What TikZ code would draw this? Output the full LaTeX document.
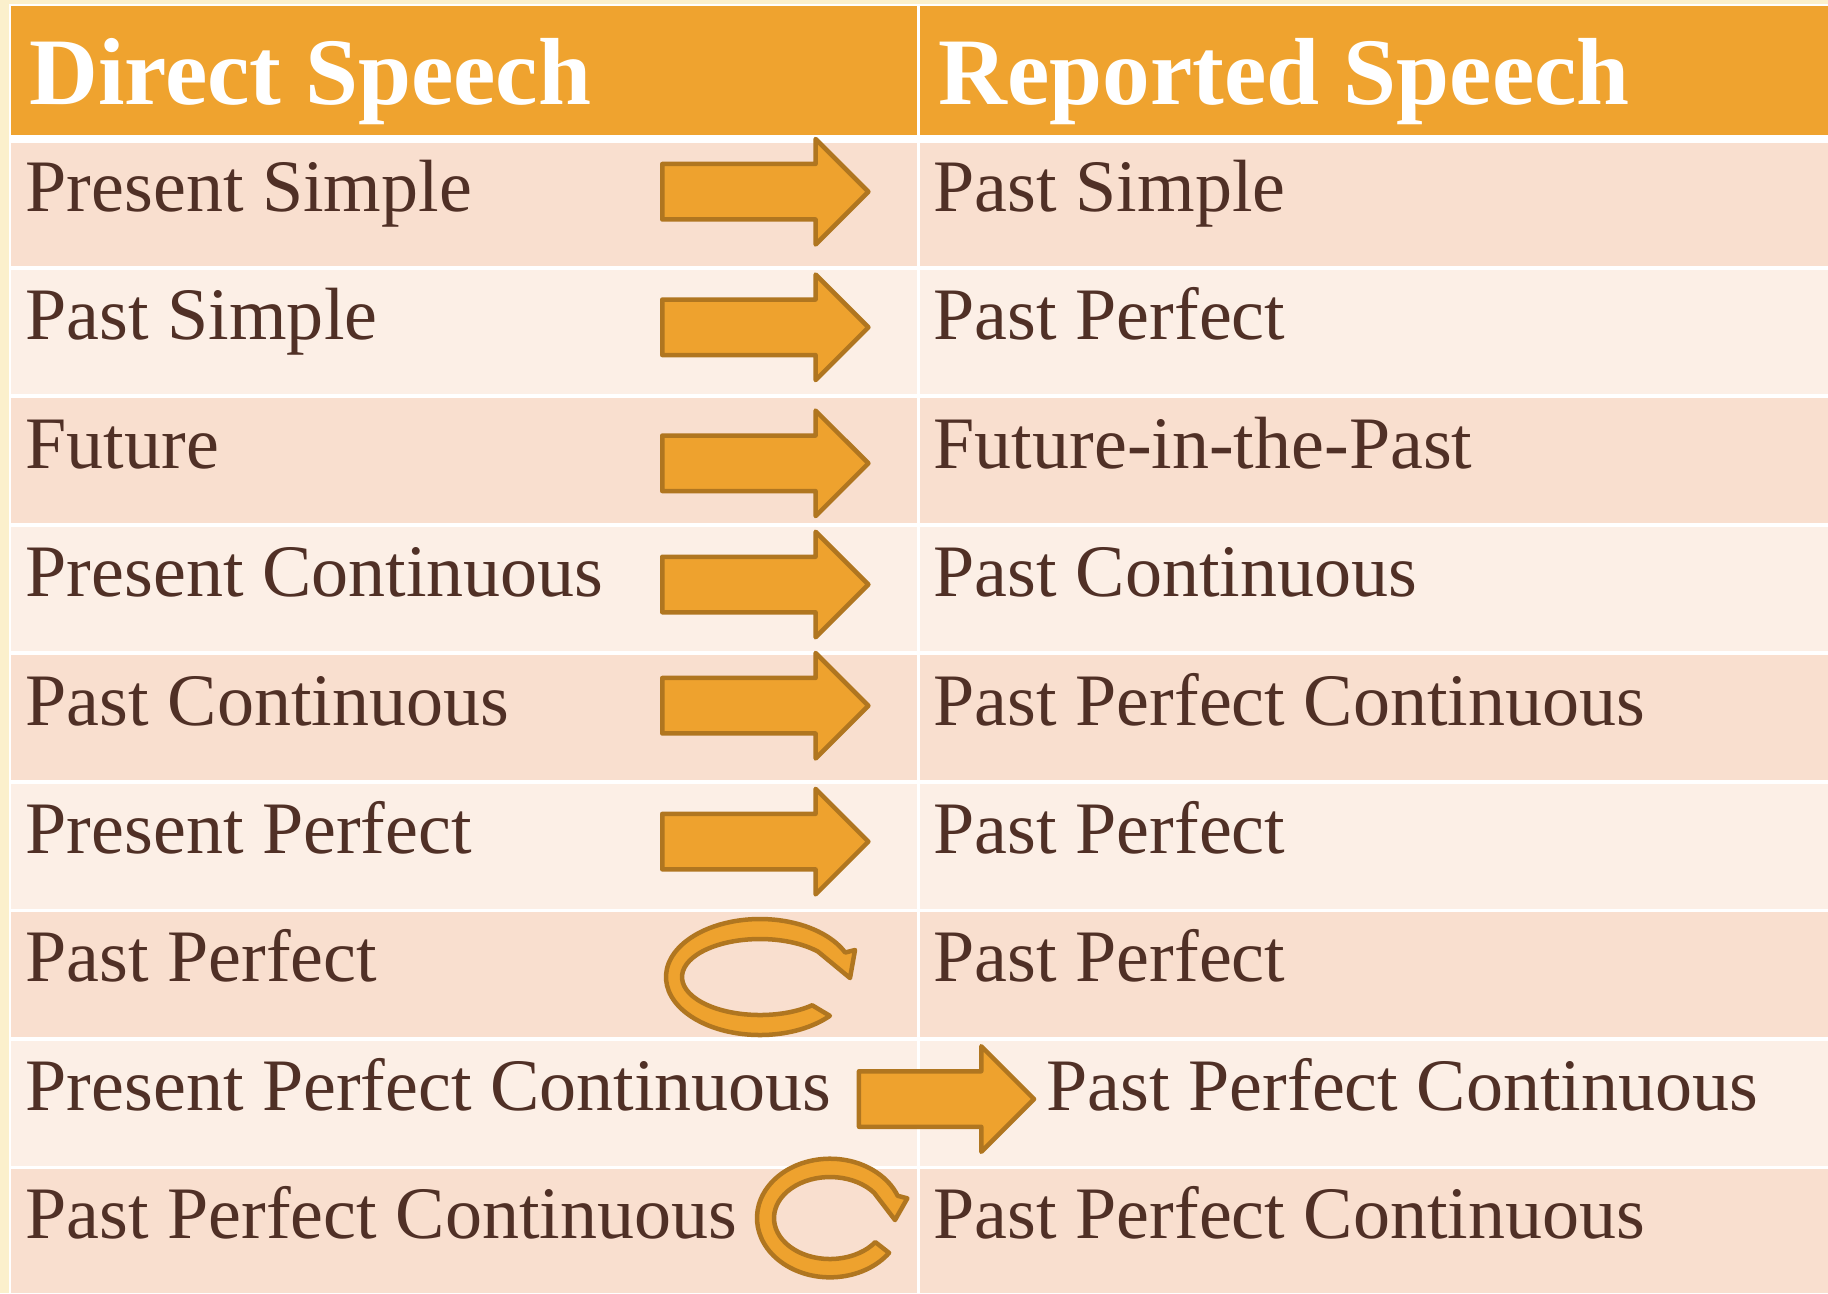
\documentclass[tikz,border=0pt]{standalone}
\usepackage{fontspec}
\setmainfont{Liberation Serif}
\usetikzlibrary{shapes.arrows}
\tikzset{every picture/.style={line width=1pt}}
\definecolor{bg-yellow}{RGB}{251,240,204}
\definecolor{hdr-orange}{RGB}{239,163,47}
\definecolor{row-dark}{RGB}{249,223,207}
\definecolor{row-light}{RGB}{252,239,230}
\definecolor{txt-brown}{RGB}{80,48,38}
\definecolor{arr-orange}{RGB}{238,162,46}
\definecolor{arr-edge}{RGB}{176,118,32}

\begin{document}
\begin{tikzpicture}
    [x=0.01cm, y=-0.01cm,
    hdr/.style = {anchor=base west, inner sep=0pt, text=white,
            font=\fontsize{27.1}{32}\selectfont\bfseries},
    cell/.style = {anchor=base west, inner sep=0pt, text=txt-brown,
            font=\fontsize{21.05}{25}\selectfont},
    arw/.style = {single arrow, draw=arr-edge, fill=arr-orange, anchor=tail,
            line width=0.045cm, line join=round, inner sep=0pt, inner ysep=0.255cm,
            single arrow head extend=0.25cm, single arrow tip angle=90},
    turn/.style = {draw=arr-edge, fill=arr-orange, line width=0.045cm, line join=round},
    ]
    \useasboundingbox (0,0) rectangle (1828,1293);

    % table background
    \fill[bg-yellow] (0,0) rectangle (1828,1293);
    \fill[white] (9,4) rectangle (1828,1293);
    \fill[hdr-orange] (11,6) rectangle (1828,135);
    \fill[row-dark] (11,143) rectangle (1828,266);
    \fill[row-light] (11,269.5) rectangle (1828,394);
    \fill[row-dark] (11,398) rectangle (1828,522.5);
    \fill[row-light] (11,526.5) rectangle (1828,651);
    \fill[row-dark] (11,654.5) rectangle (1828,780);
    \fill[row-light] (11,783.5) rectangle (1828,908.5);
    \fill[row-dark] (11,912) rectangle (1828,1037);
    \fill[row-light] (11,1040.5) rectangle (1828,1165.5);
    \fill[row-dark] (11,1169) rectangle (1828,1293);
    \fill[white] (917,4) rectangle (919.5,1293);

    \node[hdr] (ds-text) at (27.5,104) {Direct Speech};
    \node[hdr] (rs-text) at (937,104) {Reported Speech};

    \node[cell] (ds1) at (24,211) {Present Simple};
    \node[cell] (ds2) at (24,339.5) {Past Simple};
    \node[cell] (ds3) at (24,468) {Future};
    \node[cell] (ds4) at (24,596.5) {Present Continuous};
    \node[cell] (ds5) at (24,725) {Past Continuous};
    \node[cell] (ds6) at (24,853.5) {Present Perfect};
    \node[cell] (ds7) at (24,981.5) {Past Perfect};
    \node[cell] (ds8) at (24,1110) {Present Perfect Continuous};
    \node[cell] (ds9) at (24,1238) {Past Perfect Continuous};

    \node[cell] (rs1) at (932,211) {Past Simple};
    \node[cell] (rs2) at (932,339.5) {Past Perfect};
    \node[cell] (rs3) at (932,468) {Future-in-the-Past};
    \node[cell] (rs4) at (932,596.5) {Past Continuous};
    \node[cell] (rs5) at (932,725) {Past Perfect Continuous};
    \node[cell] (rs6) at (932,853.5) {Past Perfect};
    \node[cell] (rs7) at (932,981.5) {Past Perfect};
    \node[cell] (rs8) at (1045,1110) {Past Perfect Continuous};
    \node[cell] (rs9) at (932,1238) {Past Perfect Continuous};

    % block arrows
    \node[arw, minimum height=2.06cm] (ar1) at (660,191.7) {};
    \node[arw, minimum height=2.06cm] (ar2) at (660,327.3) {};
    \node[arw, minimum height=2.06cm] (ar3) at (660,463.3) {};
    \node[arw, minimum height=2.06cm] (ar4) at (660,584.5) {};
    \node[arw, minimum height=2.06cm] (ar5) at (660,705.7) {};
    \node[arw, minimum height=2.06cm] (ar6) at (660,841.6) {};
    \node[arw, minimum height=1.75cm] (ar8) at (856.7,1099) {};

    % circular arrows
    \filldraw[turn, shift={(760,977)}] (42:94 and 58)
        arc[start angle=42, end angle=335, x radius=94, y radius=58]
        -- (95,-27) -- (90,1) -- (318:78 and 38)
        arc[start angle=318, end angle=48, x radius=78, y radius=38] -- cycle;
    \filldraw[turn, shift={(830,1218)}] (36:73 and 59.3)
        arc[start angle=36, end angle=338, x radius=73, y radius=59.3]
        -- (77.3,-19.7) -- (65,2) -- (322:56 and 41)
        arc[start angle=322, end angle=36, x radius=56, y radius=41] -- cycle;
\end{tikzpicture}
\end{document}
